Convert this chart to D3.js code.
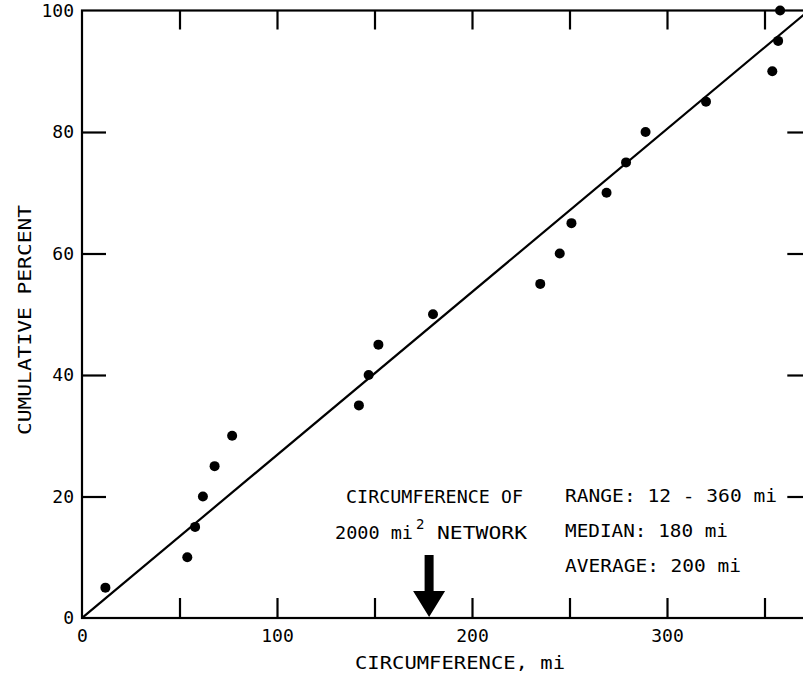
<!DOCTYPE html>
<html>
<head>
<meta charset="utf-8">
<script src="https://cdn.jsdelivr.net/npm/d3@7"></script>
<style>
  body { margin: 0; background: #fff; }
  svg { display: block; }
  text { font-family: "DejaVu Sans Mono", monospace; fill: #000; }
</style>
</head>
<body>
<svg id="chart" width="803" height="674"></svg>
<script>
// ---- data ----
const circumference = [12, 54, 58, 62, 68, 77, 142, 147, 152, 180, 235, 245, 251, 269, 279, 289, 320, 354, 357, 358];
const cumPercent    = [5, 10, 15, 20, 25, 30, 35, 40, 45, 50, 55, 60, 65, 70, 75, 80, 85, 90, 95, 100];
const fitX = [0, 372.7];
const fitY = [0, 100];
const xTicks = [50, 100, 150, 200, 250, 300, 350];
const xTickLabels = [0, 100, 200, 300];
const yTicks = [20, 40, 60, 80];
const yTickLabels = [0, 20, 40, 60, 80, 100];
const networkCircumference = 178;
const statsLines = ["RANGE: 12 - 360 mi", "MEDIAN: 180 mi", "AVERAGE: 200 mi"];

// ---- layout ----
const svg = d3.select("#chart");
const x = d3.scaleLinear().domain([0, 374]).range([82, 82 + 374 * 1.95]);
const y = d3.scaleLinear().domain([0, 100]).range([618, 10.5]);
const X0 = x.range()[0], X1 = x.range()[1], Y0 = y.range()[0], Y1 = y.range()[1];
const FS = "18px";

svg.append("defs").append("clipPath").attr("id", "plot")
  .append("rect").attr("x", X0).attr("y", Y1).attr("width", X1 - X0).attr("height", Y0 - Y1);

// frame
svg.append("rect").attr("x", X0).attr("y", Y1).attr("width", X1 - X0).attr("height", Y0 - Y1)
  .attr("fill", "none").attr("stroke", "#000").attr("stroke-width", 2.2);

const tickStyle = g => {
  g.select(".domain").remove();
  g.selectAll(".tick line").attr("stroke", "#000").attr("stroke-width", 2.2);
  g.selectAll(".tick text").style("font-size", FS).attr("fill", "#000");
};

// bottom ticks (inward) + labels
svg.append("g").attr("transform", `translate(0,${Y0})`)
  .call(d3.axisBottom(x).tickValues(xTicks).tickSize(-20).tickFormat(""))
  .call(tickStyle);
svg.append("g").attr("transform", `translate(0,${Y0})`)
  .call(d3.axisBottom(x).tickValues(xTickLabels).tickSize(0).tickPadding(11).tickFormat(d3.format("d")))
  .call(tickStyle);
// top ticks (inward)
svg.append("g").attr("transform", `translate(0,${Y1})`)
  .call(d3.axisTop(x).tickValues(xTicks).tickSize(-19).tickFormat(""))
  .call(tickStyle);
// left ticks (inward) + labels
svg.append("g").attr("transform", `translate(${X0},0)`)
  .call(d3.axisLeft(y).tickValues(yTicks).tickSize(-24).tickFormat(""))
  .call(tickStyle);
svg.append("g").attr("transform", `translate(${X0},0)`)
  .call(d3.axisLeft(y).tickValues(yTickLabels).tickSize(0).tickPadding(8).tickFormat(d3.format("d")))
  .call(tickStyle);
// right ticks (inward)
svg.append("g").attr("transform", `translate(${X1},0)`)
  .call(d3.axisRight(y).tickValues(yTicks).tickSize(-24).tickFormat(""))
  .call(tickStyle);

// fit line
const fitData = fitX.map((v, i) => [v, fitY[i]]);
svg.append("path").datum(fitData)
  .attr("clip-path", "url(#plot)")
  .attr("d", d3.line().x(d => x(d[0])).y(d => y(d[1])))
  .attr("fill", "none").attr("stroke", "#000").attr("stroke-width", 2.2);

// points
svg.append("g").selectAll("circle").data(circumference.map((c, i) => [c, cumPercent[i]]))
  .join("circle")
  .attr("cx", d => x(d[0])).attr("cy", d => y(d[1])).attr("r", 5)
  .attr("fill", "#000");

// axis titles
svg.append("text").attr("x", 460).attr("y", 669).attr("text-anchor", "middle")
  .style("font-size", FS).attr("textLength", 210).attr("lengthAdjust", "spacingAndGlyphs")
  .text("CIRCUMFERENCE, mi");
svg.append("text").attr("transform", "translate(31,320) rotate(-90)").attr("text-anchor", "middle")
  .style("font-size", FS).attr("textLength", 230).attr("lengthAdjust", "spacingAndGlyphs")
  .text("CUMULATIVE PERCENT");

// network annotation
svg.append("text").attr("x", 346).attr("y", 503).style("font-size", FS)
  .attr("textLength", 177).attr("lengthAdjust", "spacingAndGlyphs").text("CIRCUMFERENCE OF");
const t2 = svg.append("text").attr("y", 539).style("font-size", FS);
t2.append("tspan").attr("x", 335).attr("textLength", 78).attr("lengthAdjust", "spacingAndGlyphs").text("2000 mi");
t2.append("tspan").attr("x", 416).attr("dy", -10).style("font-size", "14px").text("2");
t2.append("tspan").attr("x", 437).attr("dy", 10).attr("textLength", 90).attr("lengthAdjust", "spacingAndGlyphs").text("NETWORK");

// arrow
const ax = x(networkCircumference);
const tip = y(0) - 1;
svg.append("path")
  .attr("d", `M${ax - 4.5},${tip - 62} L${ax + 4.5},${tip - 62} L${ax + 4.5},${tip - 26} L${ax + 16},${tip - 26} L${ax},${tip} L${ax - 16},${tip - 26} L${ax - 4.5},${tip - 26} Z`)
  .attr("fill", "#000");

// stats
const statLens = [212, 163, 176];
svg.append("g").selectAll("text").data(statsLines).join("text")
  .attr("x", 565).attr("y", (d, i) => 502 + i * 35)
  .style("font-size", FS)
  .attr("textLength", (d, i) => statLens[i]).attr("lengthAdjust", "spacingAndGlyphs")
  .text(d => d);
</script>
</body>
</html>
